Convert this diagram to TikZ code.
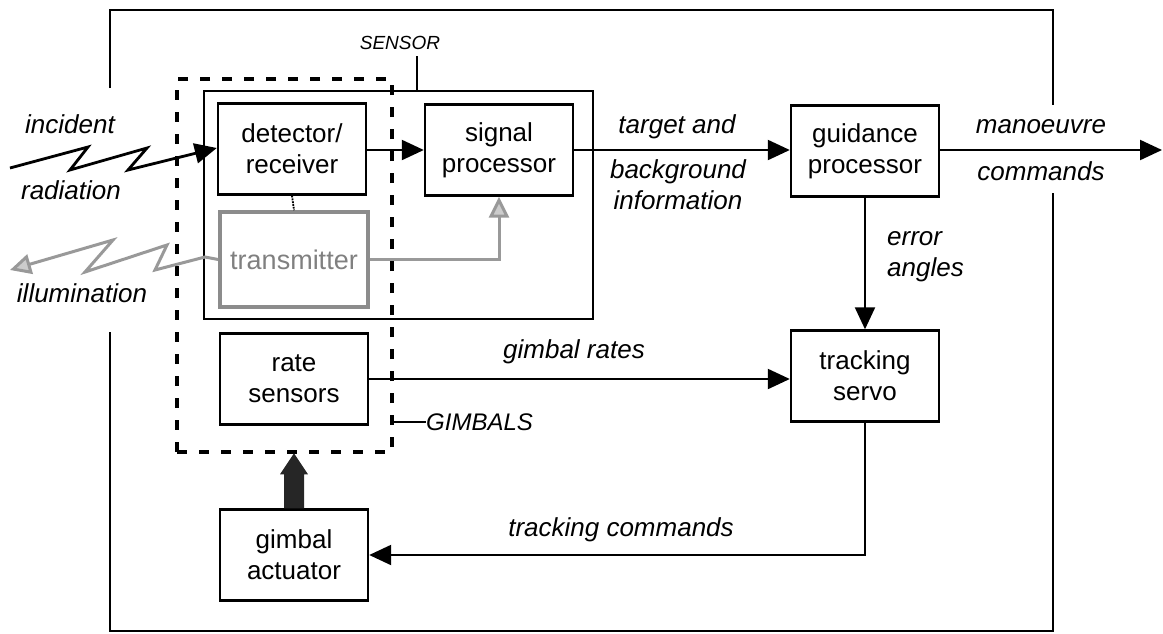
\documentclass[tikz,border=0pt]{standalone}
\usepackage{fontspec}
\setmainfont{Liberation Sans}
\usetikzlibrary{arrows.meta,calc}

\tikzset{
	blk/.style={draw, line width=2.4pt, minimum width=148pt, minimum height=91pt, align=center, inner sep=0pt, font=\fontsize{26}{31}\selectfont},
	lbl/.style={align=center, inner sep=0pt, font=\fontsize{26}{31}\selectfont\itshape},
	tag/.style={inner sep=0pt, font=\fontsize{24}{28}\selectfont\itshape},
	sig/.style={line width=2.2pt, -{Triangle[length=22pt,width=20pt]}},
	ray/.style={line width=2.8pt, line join=miter, -{Triangle[length=22pt,width=20pt]}},
	greyray/.style={draw=black!40, line width=3pt, -{Triangle[length=21pt,width=20pt,fill=black!20]}}
}

\begin{document}
\begin{tikzpicture}[x=1pt, y=-1pt]
			%%%%% START %%%%%
			
			\useasboundingbox (0, 0) rectangle (1163, 633);
			
			% outer frame, open where signals cross it
			\draw[line width=2.2pt] (110, 88) -- (110, 10) -- (1053, 10) -- (1053, 105);
			\draw[line width=2.2pt] (1053, 193) -- (1053, 631) -- (110, 631) -- (110, 332);
			
			% sensor and gimbals
			\node[draw, line width=2.4pt, minimum width=389pt, minimum height=228pt] (sensor) at (398.5, 205) {};
			\node[draw, line width=3.4pt, dash pattern=on 10pt off 12pt, minimum width=215pt, minimum height=373pt] (gimbals) at (284.5, 265.5) {};
			
			\node[blk] (det) at (292, 149) {detector/\\receiver};
			\node[blk, draw=black!45, line width=3.6pt, text=black!50, minimum height=95pt, font=\fontsize{27}{31}\selectfont] (tx) at (294, 259.5) {transmitter};
			\node[blk] (sigp) at (499, 150) {signal\\processor};
			\node[blk] (guid) at (865, 151) {guidance\\processor};
			\node[blk] (trk) at (865, 376) {tracking\\servo};
			\node[blk] (rate) at (294, 379) {rate\\sensors};
			\node[blk] (act) at (294, 555) {gimbal\\actuator};
			
			\coordinate (inc) at (10, 168);
			\coordinate (ill) at (10, 270);
			\coordinate (out) at (1162, 151);
			
			% labels
			\node[lbl] (incl) at (70, 124) {incident};
			\node[lbl] (radl) at (71, 190) {radiation};
			\node[lbl] (illl) at (82, 293) {illumination};
			\node[lbl] (tgtl) at (677, 127) {target and};
			\node[lbl] (bgl) at (678, 185) {background\\information};
			\node[lbl] (manl) at (1041, 127) {manoeuvre};
			\node[lbl] (cmdl) at (1041, 171) {commands};
			\node[lbl, anchor=west, align=left] (errl) at (887, 257) {error\\angles};
			\node[lbl] (ratel) at (574, 352) {gimbal rates};
			\node[lbl] (trkl) at (621, 530) {tracking commands};
			\node[tag, anchor=west] (gimt) at (426, 422) {GIMBALS};
			\node[tag, font=\fontsize{19}{22}\selectfont\itshape] (sent) at (400, 43) {SENSOR};
			
			\draw[line width=1.8pt] (gimbals.east |- gimt) -- (gimt.west);
			\draw[line width=1.8pt] (sensor.north -| 417, 0) -- (417, 56);
			
			% signal paths
			\draw[ray] (inc) -- (88, 147) -- (70, 170) -- (147, 148) -- (128, 170) -- (det.west |- 0, 148);
			\draw[sig] (det.east |- 0, 150) -- (sigp.west |- 0, 150);
			\draw[sig] (sigp.east |- 0, 150) -- (guid.west |- 0, 150);
			\draw[sig] (guid.east |- 0, 150) -- (out |- 0, 150);
			\draw[sig] (guid.south) -- (trk.north);
			\draw[sig] (rate.east) -- (trk.west |- rate.east);
			\draw[sig] (trk.south) |- (act.east);
			\draw[line width=1.8pt, densely dotted] (det.south) -- (tx.north);
			
			% transmitter paths
			\draw[greyray] (tx.east) -| (sigp.south);
			\draw[greyray] (tx.west) -- (205, 257) -- (155, 270) -- (167, 245) -- (85, 272) -- (113, 240) -- (ill);
			
			% actuator drive
			\fill[black!85] (act.north) ++(-10, 0) -- ++(0, -34) -- ++(-4, 0) -- ++(14, -21) -- ++(14, 21) -- ++(-4, 0) -- ++(0, 34) -- cycle;
			
			%%%%% END %%%%%
\end{tikzpicture}
\end{document}
